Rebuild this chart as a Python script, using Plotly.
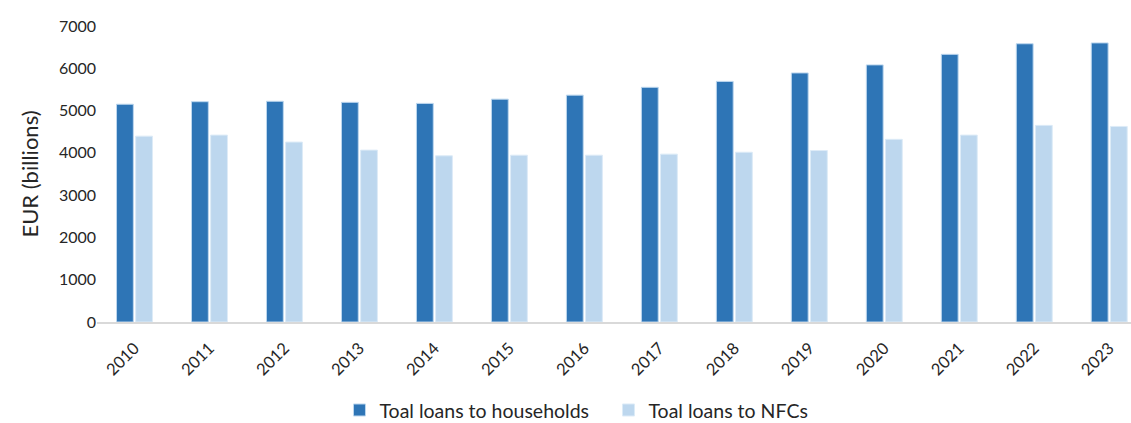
import plotly.graph_objects as go

years = ["2010", "2011", "2012", "2013", "2014", "2015", "2016",
         "2017", "2018", "2019", "2020", "2021", "2022", "2023"]
households = [5150, 5210, 5220, 5195, 5170, 5270, 5365,
              5550, 5690, 5890, 6080, 6330, 6580, 6600]
nfcs = [4395, 4420, 4255, 4065, 3930, 3945, 3945,
        3970, 4015, 4055, 4320, 4420, 4650, 4625]

font_family = "Lato, 'Open Sans', sans-serif"

fig = go.Figure()
fig.add_trace(go.Bar(
    x=years, y=households, name="Toal loans to households",
    marker=dict(color="#2E75B6", line=dict(color="#BDD7EE", width=1)),
))
fig.add_trace(go.Bar(
    x=years, y=nfcs, name="Toal loans to NFCs",
    marker=dict(color="#BDD7EE", line=dict(color="#DDEBF7", width=1)),
))

fig.update_layout(
    width=1131, height=423,
    margin=dict(l=97, r=0, t=26, b=101),
    paper_bgcolor="white", plot_bgcolor="white",
    barmode="group", bargap=0.49, bargroupgap=0.12,
    font=dict(family=font_family, color="#262626", size=16),
    legend=dict(
        orientation="h", xref="container", yref="container",
        x=0.538, xanchor="center", y=0.03, yanchor="middle",
        font=dict(size=19.5, color="#262626"),
        traceorder="normal", itemwidth=30, entrywidth=224,
    ),
    xaxis=dict(
        type="category", range=[-0.5, 13.29],
        showline=True, linecolor="#D9D9D9", linewidth=2,
        ticks="", tickangle=-45, showgrid=False,
        tickfont=dict(size=16.5), ticklabelstandoff=8,
    ),
    yaxis=dict(
        range=[0, 7000], dtick=1000, showgrid=False, zeroline=False,
        showline=False, ticks="", tickfont=dict(size=16),
        title=dict(text="EUR (billions)", font=dict(size=22), standoff=14),
    ),
)

fig.write_html("out.html")
